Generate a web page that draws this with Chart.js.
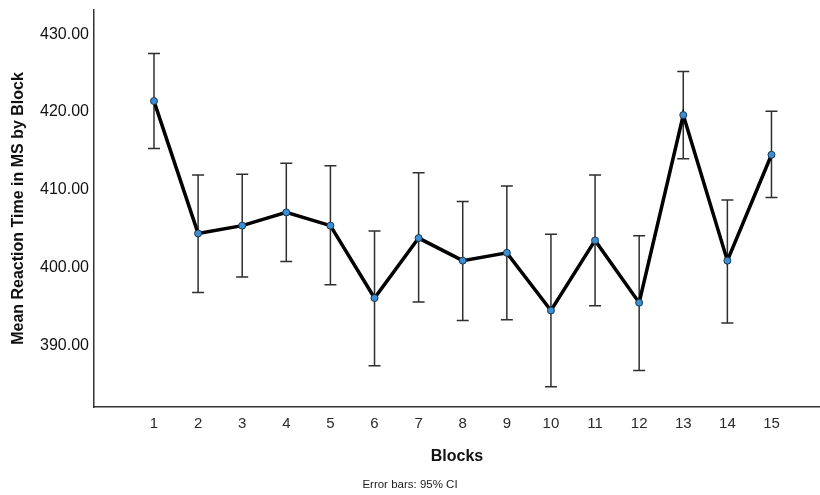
<!DOCTYPE html>
<html>
<head>
<meta charset="utf-8">
<script src="https://cdn.jsdelivr.net/npm/chart.js@4/dist/chart.umd.min.js"></script>
<style>
  html, body { margin: 0; padding: 0; background: #fff; }
  #wrap { width: 820px; height: 495px; }
</style>
</head>
<body>
<div id="wrap"><canvas id="rtChart" width="820" height="495"></canvas></div>
<script>
// Block numbers and mean RT per block
const blocks = [1, 2, 3, 4, 5, 6, 7, 8, 9, 10, 11, 12, 13, 14, 15];
const meanRT = [421.4, 404.4, 405.4, 407.1, 405.4, 396.1, 403.8, 400.9, 401.9, 394.5, 403.5, 395.5, 419.6, 400.9, 414.5];
// 95% CI bounds
const ciUpper = [427.5, 411.9, 412.0, 413.4, 413.1, 404.7, 412.2, 408.5, 410.5, 404.3, 411.9, 404.1, 425.2, 408.7, 420.1];
const ciLower = [415.3, 396.8, 398.8, 400.8, 397.8, 387.4, 395.6, 393.2, 393.3, 384.7, 395.1, 386.8, 414.0, 392.9, 409.0];
const yTicks = [390, 400, 410, 420, 430];

const fontFamily = '"Liberation Sans", Arial, sans-serif';

// Draw CI whiskers underneath the line
const errorBars = {
    id: 'errorBars',
    beforeDatasetsDraw(chart) {
        const { ctx, scales: { x, y } } = chart;
        const cap = 6;
        ctx.save();
        ctx.strokeStyle = '#2e2e2e';
        ctx.lineWidth = 1.5;
        blocks.forEach((b, i) => {
            const px = x.getPixelForValue(b);
            const top = y.getPixelForValue(ciUpper[i]);
            const bot = y.getPixelForValue(ciLower[i]);
            ctx.beginPath();
            ctx.moveTo(px, top);
            ctx.lineTo(px, bot);
            ctx.moveTo(px - cap, top);
            ctx.lineTo(px + cap, top);
            ctx.moveTo(px - cap, bot);
            ctx.lineTo(px + cap, bot);
            ctx.stroke();
        });
        ctx.restore();
    }
};

const ctx = document.getElementById('rtChart');
new Chart(ctx, {
    type: 'line',
    data: {
        datasets: [{
            label: 'Mean Reaction Time',
            data: blocks.map((b, i) => ({ x: b, y: meanRT[i] })),
            borderColor: '#000',
            borderWidth: 3.5,
            tension: 0,
            pointRadius: 3.5,
            pointBackgroundColor: '#3a90d2',
            pointBorderColor: '#1c3550',
            pointBorderWidth: 1
        }]
    },
    options: {
        responsive: false,
        animation: false,
        layout: { autoPadding: false, padding: { top: 10, right: 0, left: 0, bottom: 0 } },
        plugins: {
            legend: { display: false },
            tooltip: { enabled: false },
            title: {
                display: true,
                position: 'bottom',
                text: 'Error bars: 95% CI',
                color: '#1a1a1a',
                font: { family: fontFamily, size: 11.5, weight: 'normal' },
                padding: { top: 10, bottom: 3 }
            }
        },
        scales: {
            x: {
                type: 'linear',
                min: -0.36,
                max: 16.1,
                afterBuildTicks: scale => { scale.ticks = blocks.map(v => ({ value: v })); },
                afterFit: scale => {
                    scale.height = 61.2;
                    scale.paddingLeft = 0;
                    scale.paddingRight = 0;
                },
                grid: { display: false, drawTicks: false },
                border: { display: true, color: '#333', width: 1.5 },
                ticks: {
                    color: '#2a2a2a',
                    padding: 8,
                    font: { family: fontFamily, size: 15 },
                    callback: v => String(v)
                },
                title: {
                    display: true,
                    text: 'Blocks',
                    color: '#111',
                    font: { family: fontFamily, size: 16, weight: 'bold' },
                    padding: { top: 0, bottom: 2.5 }
                }
            },
            y: {
                min: 382.1,
                max: 433.1,
                afterBuildTicks: scale => { scale.ticks = yTicks.map(v => ({ value: v })); },
                afterFit: scale => {
                    scale.width = 94;
                    scale.paddingTop = 0;
                    scale.paddingBottom = 0;
                },
                grid: { display: false, drawTicks: false },
                border: { display: true, color: '#333', width: 1.5 },
                ticks: {
                    color: '#111',
                    padding: 5,
                    font: { family: fontFamily, size: 16 },
                    callback: v => Number(v).toFixed(2)
                },
                title: {
                    display: true,
                    text: 'Mean Reaction Time in MS by Block',
                    color: '#111',
                    font: { family: fontFamily, size: 16, weight: 'bold' },
                    padding: { top: 9.4, bottom: 0 }
                }
            }
        }
    },
    plugins: [errorBars]
});
</script>
</body>
</html>
